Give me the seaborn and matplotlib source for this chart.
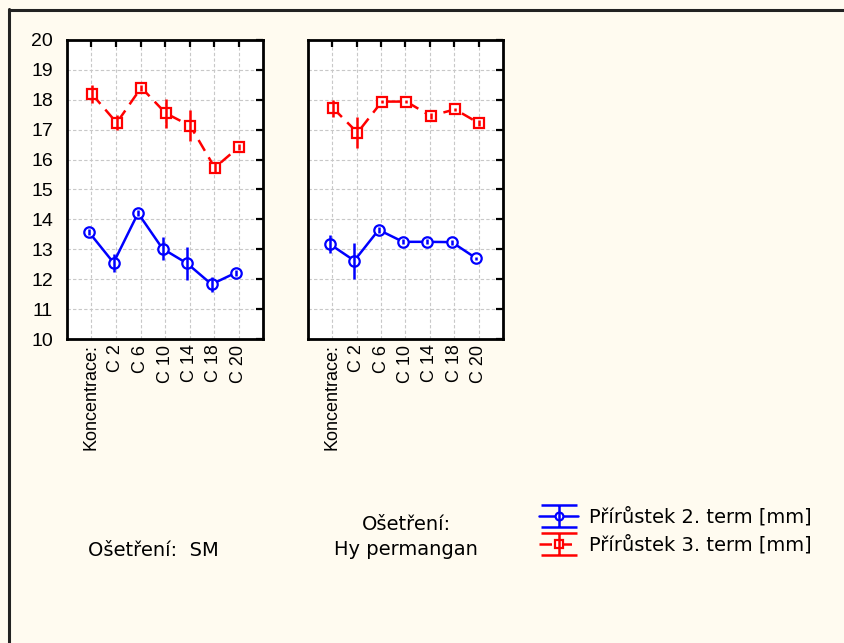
import numpy as np
import pandas as pd
import matplotlib
matplotlib.use("Agg")
import matplotlib.pyplot as plt
import seaborn as sns
from matplotlib.lines import Line2D
from matplotlib.path import Path

categories = ["Koncentrace:", "C 2", "C 6", "C 10", "C 14", "C 18", "C 20"]
panel_labels = ["Ošetření:  SM", "Ošetření:\nHy permangan"]
series_names = ["Přírůstek 2. term [mm]", "Přírůstek 3. term [mm]"]

sm_term2 = [13.57, 12.55, 14.21, 13.02, 12.53, 11.83, 12.22]
sm_term2_err = [0.10, 0.30, 0.10, 0.38, 0.55, 0.25, 0.10]
sm_term3 = [18.18, 17.23, 18.41, 17.55, 17.13, 15.73, 16.43]
sm_term3_err = [0.30, 0.25, 0.10, 0.48, 0.52, 0.15, 0.10]
hy_term2 = [13.17, 12.62, 13.65, 13.25, 13.25, 13.24, 12.70]
hy_term2_err = [0.31, 0.60, 0.10, 0.08, 0.08, 0.08, 0.05]
hy_term3 = [17.72, 16.90, 17.94, 17.94, 17.46, 17.68, 17.21]
hy_term3_err = [0.28, 0.52, 0.05, 0.05, 0.10, 0.05, 0.10]
yticks = list(range(10, 21))

rows = []
for p, (v2, e2, v3, e3) in enumerate([(sm_term2, sm_term2_err, sm_term3, sm_term3_err),
                                      (hy_term2, hy_term2_err, hy_term3, hy_term3_err)]):
    for s, (vals, errs) in enumerate([(v2, e2), (v3, e3)]):
        for i, c in enumerate(categories):
            rows.append(dict(panel=p, series=series_names[s], cat=c, idx=i,
                             value=vals[i], err=errs[i]))
df = pd.DataFrame(rows)

sns.set_style("white")
plt.rcParams["font.family"] = ["DejaVu Sans"]
plt.rcParams["text.color"] = "black"
plt.rcParams["xtick.color"] = "black"
plt.rcParams["ytick.color"] = "black"

BG = "#FFFBF0"
fig = plt.figure(figsize=(8.45, 6.43), dpi=100, facecolor=BG)
W, H = 845, 643

def ax_rect(x0, y0, x1, y1):
    return [x0 / W, 1 - y1 / H, (x1 - x0) / W, (y1 - y0) / H]

axes = [fig.add_axes(ax_rect(67, 40, 263, 339)), fig.add_axes(ax_rect(308, 40, 503, 339))]

styles = {
    series_names[0]: dict(color="#0000FF", ls="-", marker="o", ms=7.5, off=-0.1),
    series_names[1]: dict(color="#FF0000", ls=(0, (5, 3)), marker="s", ms=7, off=0.03),
}

XFONT = dict(family=["Liberation Sans", "DejaVu Sans"], size=13)
YFONT = dict(family=["Liberation Sans", "DejaVu Sans"], size=14)

for p, ax in enumerate(axes):
    ax.set_facecolor("white")
    for name in series_names:
        st = styles[name]
        sub = df[(df.panel == p) & (df.series == name)].copy()
        sub["pos"] = sub["idx"] + st["off"]
        sns.lineplot(data=sub, x="pos", y="value", ax=ax, color=st["color"],
                     linestyle=st["ls"], linewidth=1.8, marker=st["marker"],
                     markersize=st["ms"], markerfacecolor="white",
                     markeredgecolor=st["color"], markeredgewidth=1.6,
                     errorbar=None, sort=False, zorder=3)
        ax.errorbar(sub["pos"], sub["value"], yerr=sub["err"], fmt="none",
                    ecolor=st["color"], elinewidth=1.8, capsize=0, zorder=4)
    ax.set_xlim(-1, 7)
    ax.set_ylim(10, 20)
    ax.set_xticks(range(len(categories)))
    ax.set_xticklabels(categories, rotation=90, fontdict=XFONT)
    ax.set_yticks(yticks)
    ax.set_yticklabels([str(t) for t in yticks], fontdict=YFONT)
    ax.set_xlabel("")
    ax.set_ylabel("")
    ax.grid(True, linestyle=(0, (3, 2)), color="#c8c8c8", linewidth=0.8)
    ax.set_axisbelow(True)
    ax.tick_params(direction="in", length=5, width=1.6, top=True, right=True,
                   colors="black")
    ax.tick_params(axis="x", pad=4)
    ax.tick_params(axis="y", pad=10)
    for sp in ax.spines.values():
        sp.set_linewidth(2)
        sp.set_color("black")
    if ax.get_legend():
        ax.get_legend().remove()
axes[1].tick_params(labelleft=False)

fig.text(153 / W, 1 - 551 / H, panel_labels[0], ha="center", va="center", fontsize=14)
fig.text(406 / W, 1 - 537 / H, panel_labels[1], ha="center", va="center", fontsize=14,
         linespacing=1.35)

# legend
cap_path = Path([(-1, 0.63), (1, 0.63), (0, 0.63), (0, -0.63), (-1, -0.63), (1, -0.63)],
                [Path.MOVETO, Path.LINETO, Path.MOVETO, Path.LINETO, Path.MOVETO, Path.LINETO])
handles = []
for name in series_names:
    st = styles[name]
    line = Line2D([], [], color=st["color"], linestyle=st["ls"], linewidth=1.8,
                  marker=st["marker"], markersize=st["ms"] * 0.75, markerfacecolor="white",
                  markeredgecolor=st["color"], markeredgewidth=1.6)
    cap = Line2D([], [], linestyle="none", marker=cap_path, markersize=26,
                 markerfacecolor="none", markeredgecolor=st["color"], markeredgewidth=1.8)
    handles.append((line, cap))
fig.legend(handles, series_names, loc="center left",
           bbox_to_anchor=(522 / W, 1 - 531 / H), frameon=False, fontsize=14,
           handlelength=2.0, handletextpad=0.55, labelspacing=0.42)

# partial frame (top and left)
fig.add_artist(Line2D([9 / W, 9 / W], [0, 1 - 9 / H], color="#222222", linewidth=2.2,
                      transform=fig.transFigure))
fig.add_artist(Line2D([9 / W, 1], [1 - 10 / H, 1 - 10 / H], color="#222222", linewidth=2.2,
                      transform=fig.transFigure))

fig.savefig("out.png", dpi=100, facecolor=BG)
